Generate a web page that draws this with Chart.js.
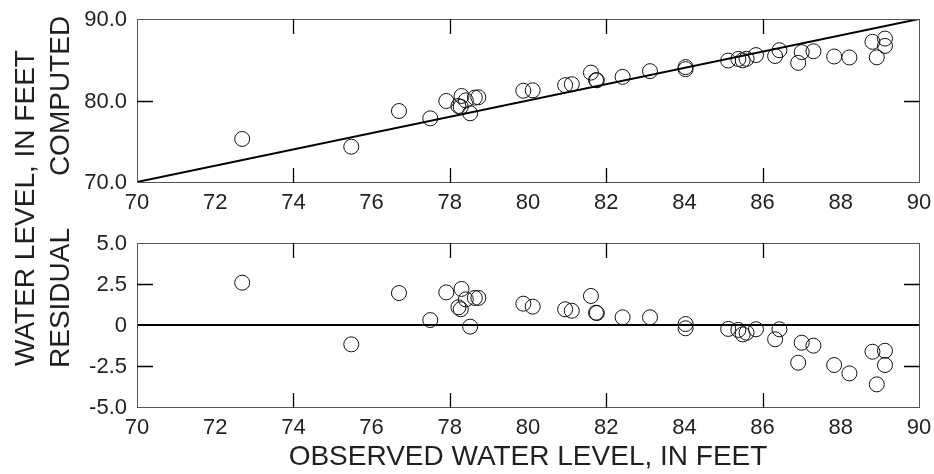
<!DOCTYPE html>
<html>
<head>
<meta charset="utf-8">
<script src="https://cdn.jsdelivr.net/npm/chart.js@4/dist/chart.umd.min.js"></script>
<style>
body{margin:0;background:#fff}
#wrap{position:relative;width:934px;height:474px}
#wrap canvas{position:absolute;left:0;top:0}
</style>
</head>
<body>
<div id="wrap">
<canvas id="computedChart" width="934" height="474"></canvas>
<canvas id="residualChart" width="934" height="474"></canvas>
</div>
<script>

// observed vs computed water levels, feet
const observed = [72.69,75.48,76.70,77.50,77.91,78.30,78.22,78.28,78.41,78.64,78.73,78.52,79.88,80.12,80.95,81.12,81.61,81.74,81.76,82.42,83.12,84.03,84.03,85.12,85.38,85.49,85.59,85.83,86.32,86.43,86.91,87.00,87.30,87.83,88.22,88.81,88.92,89.13,89.13]
const computed = [75.28,74.33,78.71,77.81,79.94,80.55,79.33,79.22,80.02,80.35,80.40,78.43,81.20,81.25,81.88,82.00,83.42,82.50,82.48,82.90,83.60,84.10,83.85,84.90,85.10,84.93,85.12,85.57,85.46,86.17,84.62,85.93,86.04,85.40,85.28,87.20,85.30,87.60,86.70]
const residual = [2.58,-1.18,1.95,0.30,1.99,2.20,1.08,0.96,1.56,1.65,1.65,-0.10,1.30,1.12,0.96,0.87,1.77,0.75,0.73,0.47,0.47,0.06,-0.20,-0.24,-0.30,-0.57,-0.47,-0.26,-0.87,-0.26,-2.30,-1.08,-1.26,-2.44,-2.95,-1.63,-3.62,-1.57,-2.44]

// reference lines
const lineX = [70,90]
const oneToOne = [70,90]
const zeroLine = [0,0]

// ticks and labels
const xTicks = [70,72,74,76,78,80,82,84,86,88,90]
const xMarks = [74,78,82,86]
const computedTicks = [70,80,90]
const computedLabels = ["70.0","80.0","90.0"]
const computedMarks = [80]
const residualTicks = [5,2.5,0,-2.5,-5]
const residualLabels = ["5.0","2.5","0","-2.5","-5.0"]
const residualMarks = [2.5,-2.5]

const textColor = "#231f20"
const tickFont = "22px 'Liberation Sans', Arial, sans-serif"
const titleFont = "28px 'Liberation Sans', Arial, sans-serif"

function pairs(xs, ys){
  return xs.map((x,i)=>({x:x,y:ys[i]}))
}

function drawTitle(c, text, x, y, rotate){
  c.save()
  c.translate(x,y)
  if(rotate) c.rotate(-Math.PI/2)
  c.font = titleFont
  c.fillStyle = textColor
  c.textAlign = "center"
  c.textBaseline = "middle"
  c.fillText(text,0,0)
  c.restore()
}

// frame, inner tick marks, tick labels and titles
const axisDecor = {
  id:"axisDecor",
  afterDraw(chart, args, opts){
    const c = chart.ctx
    const a = chart.chartArea
    const xs = chart.scales.x
    const ys = chart.scales.y
    const left = Math.round(a.left)
    const right = Math.round(a.right)
    const top = Math.round(a.top)
    const bottom = Math.round(a.bottom)

    c.save()
    c.fillStyle = "#555"
    c.fillRect(left, top, right-left+1, 1)
    c.fillRect(left, bottom, right-left+1, 1)
    c.fillRect(left, top, 1, bottom-top+1)
    c.fillRect(right, top, 1, bottom-top+1)

    // inner tick marks
    c.strokeStyle = "#000"
    c.lineWidth = 1.3
    c.beginPath()
    for(const v of xMarks){
      const px = Math.round(xs.getPixelForValue(v))+0.5
      c.moveTo(px, top); c.lineTo(px, top+15)
      c.moveTo(px, bottom+1); c.lineTo(px, bottom-14)
    }
    for(const v of (opts.marks || [])){
      const py = Math.round(ys.getPixelForValue(v))+0.5
      c.moveTo(left, py); c.lineTo(left+16, py)
      c.moveTo(right+1, py); c.lineTo(right-15, py)
    }
    c.stroke()

    c.font = tickFont
    c.fillStyle = textColor
    c.textBaseline = "middle"
    c.textAlign = "center"
    xTicks.forEach(v=>{
      c.fillText(String(v), xs.getPixelForValue(v), a.bottom+21)
    })
    c.textAlign = "right"
    opts.ticks.forEach((v,i)=>{
      c.fillText(opts.labels[i], a.left-10, ys.getPixelForValue(v)+1)
    })
    c.restore()

    opts.titles.forEach(t=>drawTitle(c, t.text, t.x, t.y, t.rotate))
  }
}

function makeChart(id, pts, ref, yMin, yMax, pad, decor){
  return new Chart(document.getElementById(id), {
    type:"scatter",
    data:{
      datasets:[{
        type:"line",
        data:pairs(lineX, ref),
        borderColor:"#000",
        borderWidth:2,
        pointRadius:0,
        order:0
      },{
        data:pts,
        pointStyle:"circle",
        pointRadius:7.5,
        borderWidth:1,
        borderColor:"#111",
        backgroundColor:"rgba(0,0,0,0)",
        order:1
      }]
    },
    options:{
      responsive:false,
      animation:false,
      devicePixelRatio:1,
      layout:{padding:pad},
      scales:{
        x:{type:"linear", min:70, max:90, display:false},
        y:{type:"linear", min:yMin, max:yMax, display:false}
      },
      plugins:{
        legend:{display:false},
        tooltip:{enabled:false},
        axisDecor:decor
      }
    },
    plugins:[axisDecor]
  })
}

makeChart("computedChart", pairs(observed, computed), oneToOne, 70, 90,
  {left:137, right:15, top:19, bottom:292},
  {ticks:computedTicks, labels:computedLabels, marks:computedMarks,
   titles:[{text:"COMPUTED", x:61, y:96, rotate:true}]})

makeChart("residualChart", pairs(observed, residual), zeroLine, -5, 5,
  {left:137, right:15, top:243, bottom:67},
  {ticks:residualTicks, labels:residualLabels, marks:residualMarks,
   titles:[
     {text:"RESIDUAL", x:61, y:298, rotate:true},
     {text:"WATER LEVEL, IN FEET", x:26, y:208, rotate:true},
     {text:"OBSERVED WATER LEVEL, IN FEET", x:528, y:457, rotate:false}
   ]})

</script>
</body>
</html>
